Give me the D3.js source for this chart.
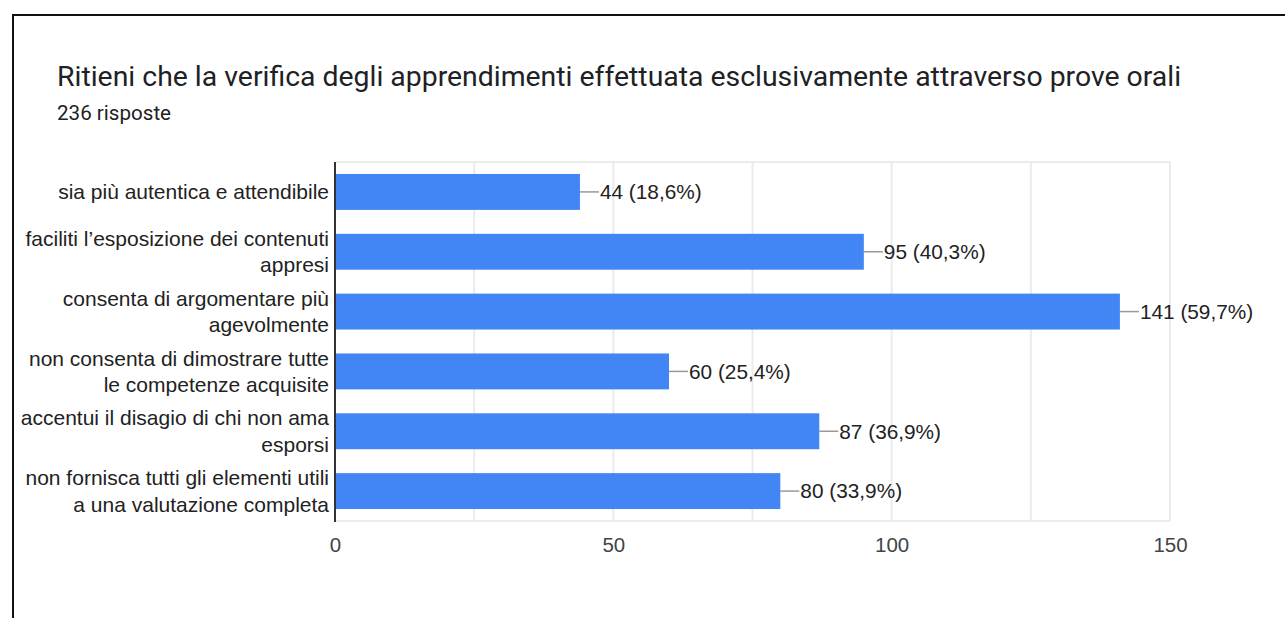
<!DOCTYPE html>
<html>
<head>
<meta charset="utf-8">
<script src="https://cdn.jsdelivr.net/npm/d3@7"></script>
<style>
  body { margin: 0; background: #fff; }
  svg { display: block; }
</style>
</head>
<body>
<div id="chart"></div>
<script>
// data
let categories = [
  "sia più autentica e attendibile",
  "faciliti l’esposizione dei contenuti\nappresi",
  "consenta di argomentare più\nagevolmente",
  "non consenta di dimostrare tutte\nle competenze acquisite",
  "accentui il disagio di chi non ama\nesporsi",
  "non fornisca tutti gli elementi utili\na una valutazione completa"
];
let counts = [44, 95, 141, 60, 87, 80];
let percents = ["18,6%", "40,3%", "59,7%", "25,4%", "36,9%", "33,9%"];
let tickValues = [0, 50, 100, 150];
let gridValues = [0, 25, 50, 75, 100, 125, 150];

let title = "Ritieni che la verifica degli apprendimenti effettuata esclusivamente attraverso prove orali";
let subtitle = "236 risposte";

let width = 1285, height = 618;
let plot = {left: 335, right: 1170, top: 162, bottom: 521};
let labelFont = "'Liberation Sans', Arial, sans-serif";

let svg = d3.select("#chart").append("svg")
  .attr("width", width).attr("height", height);

// frame
svg.append("rect")
  .attr("x", 13).attr("y", 15)
  .attr("width", 1300).attr("height", 700)
  .attr("fill", "none").attr("stroke", "#111").attr("stroke-width", 2);

svg.append("text")
  .attr("x", 57).attr("y", 86)
  .style("font-family", "Roboto, sans-serif")
  .style("font-size", "28.4px")
  .style("fill", "#202124")
  .text(title);

svg.append("text")
  .attr("x", 57).attr("y", 120)
  .style("font-family", "Roboto, sans-serif")
  .style("font-size", "20.6px")
  .style("fill", "#202124")
  .text(subtitle);

let x = d3.scaleLinear().domain([0, 150]).range([plot.left, plot.right]);
let y = d3.scaleBand().domain(categories).range([plot.top, plot.bottom])
  .paddingInner(0.4).paddingOuter(0.2);

// gridlines
svg.append("g").selectAll("line")
  .data(gridValues.slice(1)).enter()
  .append("line")
  .attr("x1", d => x(d)).attr("x2", d => x(d))
  .attr("y1", plot.top).attr("y2", plot.bottom)
  .attr("stroke", "#ebebeb").attr("stroke-width", 2);

svg.append("line")
  .attr("x1", plot.left).attr("x2", plot.right)
  .attr("y1", plot.top).attr("y2", plot.top)
  .attr("stroke", "#ebebeb").attr("stroke-width", 2);
svg.append("line")
  .attr("x1", plot.left).attr("x2", plot.right)
  .attr("y1", plot.bottom).attr("y2", plot.bottom)
  .attr("stroke", "#ebebeb").attr("stroke-width", 2);

// x axis labels
let xAxis = d3.axisBottom(x).tickValues(tickValues).tickSize(0).tickPadding(0);
let gx = svg.append("g")
  .attr("transform", "translate(0," + (plot.bottom + 16) + ")")
  .call(xAxis);
gx.select(".domain").remove();
gx.selectAll("text")
  .style("font-family", labelFont)
  .style("font-size", "20.5px")
  .style("fill", "#444");

// bars
svg.append("g").selectAll("rect")
  .data(categories).enter()
  .append("rect")
  .attr("x", x(0))
  .attr("y", d => y(d))
  .attr("width", (d, i) => x(counts[i]) - x(0))
  .attr("height", y.bandwidth())
  .attr("fill", "#4285f4");

// baseline
svg.append("line")
  .attr("x1", plot.left).attr("x2", plot.left)
  .attr("y1", plot.top).attr("y2", plot.bottom + 1)
  .attr("stroke", "#333").attr("stroke-width", 2);

// data labels with leader lines
let lab = svg.append("g").selectAll("g")
  .data(categories).enter()
  .append("g")
  .attr("transform", (d, i) => "translate(" + x(counts[i]) + "," + (y(d) + y.bandwidth() / 2) + ")");
lab.append("line")
  .attr("x1", 0).attr("x2", 19).attr("y1", 0).attr("y2", 0)
  .attr("stroke", "#999").attr("stroke-width", 1.5);
lab.append("text")
  .attr("x", 20).attr("dy", "0.35em")
  .style("font-family", labelFont)
  .style("font-size", "20.8px")
  .style("fill", "#222")
  .text((d, i) => counts[i] + " (" + percents[i] + ")");

// category labels
let cat = svg.append("g").selectAll("text")
  .data(categories).enter()
  .append("text")
  .attr("text-anchor", "end")
  .style("font-family", labelFont)
  .style("font-size", "21px")
  .style("fill", "#222");
cat.each(function(d) {
  let lines = d.split("\n");
  let cy = y(d) + y.bandwidth() / 2;
  let lh = 26.5;
  let y0 = cy - (lines.length - 1) * lh / 2;
  lines.forEach(function(t, k) {
    d3.select(this).append("tspan")
      .attr("x", 329)
      .attr("y", y0 + k * lh)
      .attr("dy", "0.35em")
      .text(t);
  }, this);
});
</script>
</body>
</html>
